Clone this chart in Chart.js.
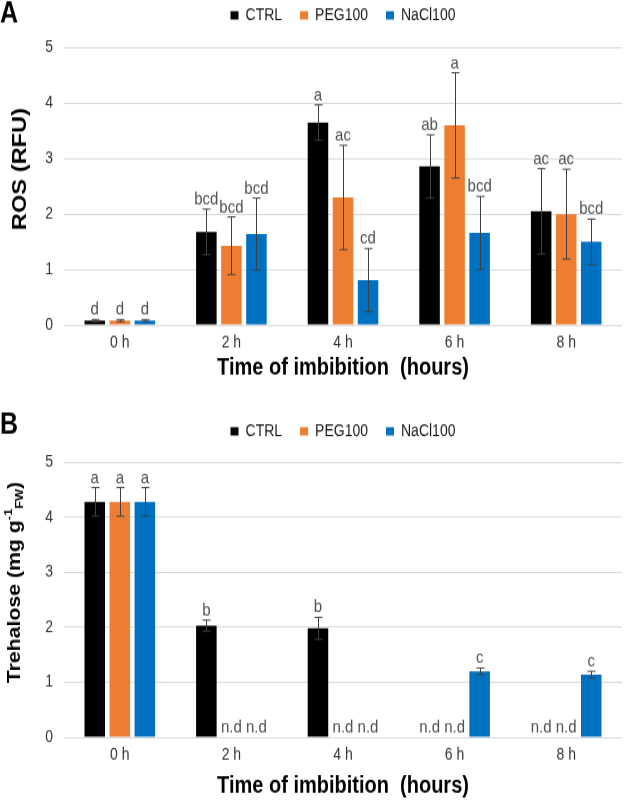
<!DOCTYPE html>
<html>
<head>
<meta charset="utf-8">
<script src="https://cdn.jsdelivr.net/npm/chart.js@4/dist/chart.umd.min.js"></script>
<style>
html, body { margin: 0; padding: 0; background: #fff; }
canvas { display: block; }
</style>
</head>
<body>
<!-- the original figure is stretched a bit vertically, so the canvases are too -->
<canvas id="rosChart" width="628" height="330" style="width:628px;height:390px"></canvas>
<canvas id="treChart" width="628" height="348" style="width:628px;height:411px"></canvas>
<script>
var hours = ['0 h', '2 h', '4 h', '6 h', '8 h'];
var seriesNames = ['CTRL', 'PEG100', 'NaCl100'];
var seriesColors = ['#000000', '#ED7D31', '#0070C0'];

// panel A - ROS
var rosCtrl = [0.08, 1.68, 3.65, 2.86, 2.05];
var rosPeg = [0.08, 1.43, 2.30, 3.60, 2.00];
var rosNacl = [0.08, 1.64, 0.81, 1.66, 1.50];
var rosCtrlErr = [0.02, 0.41, 0.32, 0.57, 0.77];
var rosPegErr = [0.02, 0.52, 0.94, 0.95, 0.81];
var rosNaclErr = [0.02, 0.65, 0.57, 0.66, 0.41];
var rosCtrlSig = ['d', 'bcd', 'a', 'ab', 'ac'];
var rosPegSig = ['d', 'bcd', 'ac', 'a', 'ac'];
var rosNaclSig = ['d', 'bcd', 'cd', 'bcd', 'bcd'];

// panel B - trehalose (n.d = not detected)
var treCtrl = [4.28, 2.03, 1.98, 0, 0];
var trePeg = [4.28, 0, 0, 0, 0];
var treNacl = [4.28, 0, 0, 1.20, 1.14];
var treCtrlErr = [0.26, 0.10, 0.20, 0, 0];
var trePegErr = [0.26, 0, 0, 0, 0];
var treNaclErr = [0.26, 0, 0, 0.06, 0.06];
var treCtrlSig = ['a', 'b', 'b', 'n.d', 'n.d'];
var trePegSig = ['a', 'n.d', 'n.d', 'n.d', 'n.d'];
var treNaclSig = ['a', 'n.d', 'n.d', 'c', 'c'];

var yTicks = [0, 1, 2, 3, 4, 5];

var FONT = '"Liberation Sans", Arial, sans-serif';

// error bars + significance letters
var errorBars = {
    id: 'errorBars',
    afterDatasetsDraw: function (chart) {
        var ctx = chart.ctx;
        var y = chart.scales.y;
        ctx.save();
        ctx.strokeStyle = '#404040';
        ctx.lineWidth = 1;
        ctx.fillStyle = '#505050';
        ctx.font = '15px ' + FONT;
        ctx.textAlign = 'center';
        ctx.textBaseline = 'alphabetic';
        chart.data.datasets.forEach(function (ds, i) {
            chart.getDatasetMeta(i).data.forEach(function (bar, j) {
                var v = ds.data[j], e = ds.errors[j];
                var top = y.getPixelForValue(v + e);
                var bot = y.getPixelForValue(v - e);
                var x = Math.round(bar.x) + 0.5;
                if (e > 0) {
                    ctx.beginPath();
                    ctx.moveTo(x, top);
                    ctx.lineTo(x, bot);
                    ctx.moveTo(x - 4, top);
                    ctx.lineTo(x + 4, top);
                    ctx.moveTo(x - 4, bot);
                    ctx.lineTo(x + 4, bot);
                    ctx.stroke();
                }
                if (ds.letters[j]) ctx.fillText(ds.letters[j], bar.x, top - 4);
            });
        });
        ctx.restore();
    }
};

// panel letter and the y axis title (with super/subscript parts)
function decorPlugin(o) {
    return {
        id: 'decor',
        afterDraw: function (chart) {
            var ctx = chart.ctx;
            ctx.save();
            ctx.fillStyle = '#000';
            ctx.font = 'bold 25px ' + FONT;
            ctx.textAlign = 'left';
            ctx.textBaseline = 'alphabetic';
            ctx.fillText(o.panel, 0, o.panelY);

            ctx.translate(o.titleX, o.titleY);
            ctx.rotate(-Math.PI / 2);
            ctx.textBaseline = 'middle';
            var widths = [], total = 0;
            o.titleParts.forEach(function (p) {
                ctx.font = 'bold ' + (p.shift ? o.titleSize * 0.6 : o.titleSize) + 'px ' + FONT;
                var w = ctx.measureText(p.text).width;
                widths.push(w);
                total += w;
            });
            var cx = -total / 2;
            o.titleParts.forEach(function (p, k) {
                ctx.font = 'bold ' + (p.shift ? o.titleSize * 0.6 : o.titleSize) + 'px ' + FONT;
                ctx.fillText(p.text, cx, (p.shift || 0) * o.titleSize);
                cx += widths[k];
            });
            ctx.restore();
        }
    };
}

function makeChart(id, series, errs, sigs, opts) {
    var datasets = series.map(function (vals, i) {
        return {
            label: seriesNames[i],
            data: vals,
            errors: errs[i],
            letters: sigs[i],
            backgroundColor: seriesColors[i],
            borderWidth: 0,
            barPercentage: 0.82,
            categoryPercentage: 0.673
        };
    });

    return new Chart(document.getElementById(id), {
        type: 'bar',
        data: { labels: hours, datasets: datasets },
        options: {
            responsive: false,
            animation: false,
            devicePixelRatio: 1,
            layout: { padding: { top: opts.padTop, right: 6, bottom: 0, left: 0 } },
            plugins: {
                tooltip: { enabled: false },
                legend: {
                    position: 'top',
                    fullSize: false,
                    labels: {
                        boxWidth: 8,
                        boxHeight: 7,
                        padding: 18,
                        color: '#1a1a1a',
                        font: { family: FONT, size: 14 }
                    }
                }
            },
            scales: {
                x: {
                    grid: { display: false, drawTicks: false },
                    border: { display: false },
                    ticks: { color: '#333333', padding: 7, font: { family: FONT, size: 14 } },
                    title: {
                        display: true,
                        text: 'Time of imbibition  (hours)',
                        color: '#000',
                        font: { family: FONT, size: 20, weight: 'bold' },
                        padding: { top: 0, bottom: opts.xTitlePad }
                    },
                    afterFit: function (s) { s.height = opts.xHeight; }
                },
                y: {
                    min: 0,
                    max: 5,
                    afterBuildTicks: function (s) {
                        s.ticks = yTicks.map(function (v) { return { value: v }; });
                    },
                    grid: { color: '#D9D9D9', drawTicks: false },
                    border: { display: false },
                    ticks: { color: '#333333', padding: 11, font: { family: FONT, size: 14 } },
                    afterFit: function (s) { s.width = 64; }
                }
            }
        },
        plugins: [errorBars, decorPlugin(opts), {
            id: 'legendHeight',
            beforeInit: function (c) {
                var fit = c.legend.fit;
                c.legend.fit = function () {
                    fit.call(this);
                    this.height = opts.legendHeight;
                };
            }
        }]
    });
}

makeChart('rosChart',
    [rosCtrl, rosPeg, rosNacl],
    [rosCtrlErr, rosPegErr, rosNaclErr],
    [rosCtrlSig, rosPegSig, rosNaclSig],
    {
        padTop: -12, legendHeight: 52.4, xHeight: 55, xTitlePad: 6.6,
        panel: 'A', panelY: 19,
        titleX: 20, titleY: 143, titleSize: 20,
        titleParts: [{ text: 'ROS (RFU)' }]
    });

makeChart('treChart',
    [treCtrl, trePeg, treNacl],
    [treCtrlErr, trePegErr, treNaclErr],
    [treCtrlSig, trePegSig, treNaclSig],
    {
        padTop: 10, legendHeight: 51.2, xHeight: 54, xTitlePad: 0.3,
        panel: 'B', panelY: 37,
        titleX: 15, titleY: 163, titleSize: 18,
        titleParts: [
            { text: 'Trehalose (mg g' },
            { text: '-1', shift: -0.35 },
            { text: 'FW', shift: 0.3 },
            { text: ')' }
        ]
    });
</script>
</body>
</html>
